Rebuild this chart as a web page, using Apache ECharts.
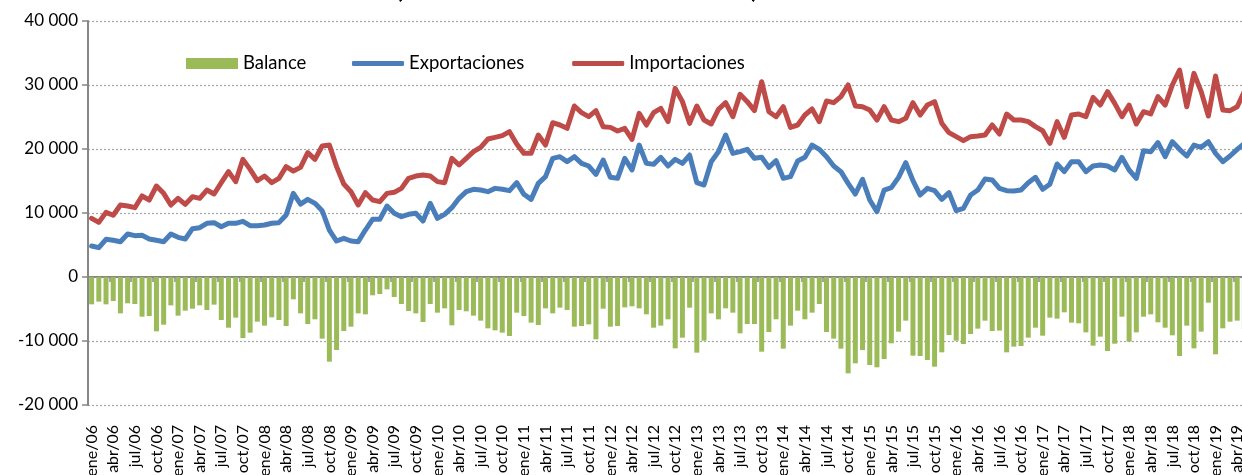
<!DOCTYPE html>
<html>
<head>
<meta charset="utf-8">
<script src="https://cdn.jsdelivr.net/npm/echarts@6/dist/echarts.min.js"></script>
<style>
    html, body { margin: 0; padding: 0; overflow: hidden; background: #fff; }
    #grafico { position: absolute; left: 0; top: 0; width: 1260px; height: 475px; }
</style>
</head>
<body>
<div id="grafico"></div>
<script>
const meses = ['ene', 'feb', 'mar', 'abr', 'may', 'jun', 'jul', 'ago', 'sep', 'oct', 'nov', 'dic'];
const anios = ['06', '07', '08', '09', '10', '11', '12', '13', '14', '15', '16', '17', '18', '19'];

// ene/06 ... may/19
const exportaciones = [
    4840, 4580, 5890, 5730, 5520, 6720, 6460, 6510, 5940, 5730, 5520, 6720,
    6200, 5940, 7550, 7710, 8390, 8490, 7860, 8390, 8390, 8700, 8020, 8020,
    8120, 8390, 8490, 9690, 13070, 11400, 12130, 11510, 10360, 7340, 5620, 6040,
    5620, 5520, 7340, 9010, 9010, 11090, 9950, 9430, 9790, 9950, 8750, 11510,
    9170, 9790, 10830, 12290, 13330, 13700, 13590, 13330, 13850, 13700, 13490, 14740,
    12920, 12130, 14630, 15680, 18540, 18800, 18020, 18800, 17760, 17340, 16040, 18280,
    15570, 15420, 18540, 16720, 20620, 17760, 17600, 18700, 17340, 18380, 17760, 19060,
    14740, 14370, 18020, 19580, 22190, 19320, 19580, 19950, 18540, 18700, 17130, 18180,
    15420, 15680, 18120, 18700, 20620, 19950, 18800, 17340, 16460, 14630, 12970, 15260,
    12030, 10210, 13590, 13960, 15570, 17860, 15050, 12810, 13850, 13490, 12130, 13180,
    10360, 10730, 12810, 13590, 15310, 15160, 13850, 13490, 13440, 13590, 14740, 15570,
    13700, 14500, 17660, 16460, 18020, 18020, 16460, 17340, 17500, 17340, 16720, 18700,
    16720, 15420, 19740, 19580, 20990, 18800, 21140, 19950, 18900, 20620, 20260, 21140,
    19320, 18020, 18900, 19950, 20880
];

const importaciones = [
    9170, 8540, 10100, 9640, 11250, 11090, 10830, 12660, 12030, 14220, 13070, 11250,
    12290, 11350, 12550, 12290, 13590, 12970, 14740, 16460, 14900, 18380, 16820, 15050,
    15780, 14740, 15420, 17240, 16560, 17130, 19430, 18380, 20470, 20620, 17240, 14530,
    13330, 11250, 13180, 12030, 11770, 13070, 13230, 13850, 15420, 15780, 15940, 15780,
    14900, 14740, 18540, 17500, 18540, 19580, 20260, 21560, 21820, 22080, 22710, 20780,
    19320, 19320, 22190, 20620, 24110, 23750, 23230, 26720, 25680, 25050, 25990, 23490,
    23380, 22810, 23230, 21510, 25570, 23750, 25680, 26350, 24270, 29480, 27400, 24010,
    26720, 24530, 23910, 26200, 27240, 25050, 28540, 27400, 25990, 30520, 25830, 25050,
    26610, 23380, 23750, 25310, 26250, 24270, 27500, 27240, 28180, 30000, 26720, 26610,
    26090, 24530, 26610, 24530, 24270, 24790, 27240, 25310, 26870, 27400, 24010, 22550,
    21930, 21300, 21930, 22030, 22190, 23750, 22340, 25470, 24530, 24530, 24270, 23490,
    22860, 20880, 24270, 21820, 25310, 25470, 25050, 28070, 26870, 28960, 27130, 25050,
    26870, 23900, 25830, 25470, 28180, 26870, 30000, 32340, 26610, 31820, 28960, 25150,
    31400, 26090, 25990, 26610, 29000
];

const balance = [
    -4270, -3850, -4270, -3750, -5680, -4110, -4220, -6200, -6090, -8490, -7450, -4430,
    -6040, -5260, -4950, -4430, -5160, -4320, -6720, -7920, -6350, -9530, -8700, -6980,
    -7600, -6300, -6720, -7660, -3490, -5680, -7340, -6610, -9630, -13230, -11410, -8440,
    -7760, -5680, -5830, -2860, -2660, -1930, -3120, -4220, -5310, -5680, -7030, -4220,
    -5570, -4900, -7550, -5160, -5360, -6040, -6820, -8020, -8330, -8700, -9220, -5570,
    -6090, -7130, -7500, -4900, -5680, -4790, -5160, -7760, -7660, -7400, -9740, -4950,
    -7760, -7660, -4740, -4580, -4900, -5830, -7920, -7600, -6610, -11150, -9480, -4790,
    -11820, -9950, -5680, -6610, -4900, -5570, -8800, -7340, -7340, -11670, -8590, -6610,
    -11200, -7600, -5260, -6610, -5570, -4220, -8590, -9630, -11200, -15050, -13490, -11410,
    -13750, -14110, -12810, -10360, -8540, -6820, -12290, -12340, -12970, -14010, -11770, -9060,
    -9950, -10470, -8910, -8070, -6820, -8440, -8380, -11770, -10880, -10780, -9480, -7920,
    -9170, -6350, -6510, -5520, -7130, -7240, -8650, -10730, -9320, -11560, -10420, -6200,
    -10100, -8650, -6200, -5830, -7080, -7920, -9110, -12340, -7600, -11150, -8540, -4010,
    -12080, -8020, -6980, -6820, -8100
];

const categorias = [];
anios.forEach(a => meses.forEach(m => categorias.push(m + '/' + a)));
categorias.length = exportaciones.length;

const fuente = 'Lato';
const gris = '#868686';
const azul = '#4a7ebb';
const rojo = '#be4b48';
const verde = '#9bbb59';

const chartDom = document.getElementById('grafico');
const myChart = echarts.init(chartDom, null, { renderer: 'canvas' });

const miles = v => String(v).replace(/\B(?=(\d{3})+(?!\d))/g, ' ');

const textoLeyenda = { fontFamily: fuente, fontSize: 18.5, color: '#000' };

const option = {
    animation: false,
    backgroundColor: '#ffffff',
    textStyle: { fontFamily: fuente },
    graphic: [
        {
            type: 'text',
            x: 577,
            y: 2,
            style: {
                text: '(en millones de dólares corrientes)',
                font: 'bold 24px Lato',
                fill: '#000',
                textAlign: 'center',
                textVerticalAlign: 'bottom'
            }
        }
    ],
    legend: [
        {
            left: 186,
            top: 54,
            padding: 0,
            itemWidth: 52,
            itemHeight: 11,
            textStyle: textoLeyenda,
            data: [{ name: 'Balance', icon: 'rect' }]
        },
        {
            left: 352,
            top: 54,
            padding: 0,
            itemWidth: 52,
            itemHeight: 5,
            itemGap: 48,
            textStyle: textoLeyenda,
            data: [
                { name: 'Exportaciones', icon: 'roundRect' },
                { name: 'Importaciones', icon: 'roundRect' }
            ]
        }
    ],
    grid: {
        left: 88,
        right: 12,
        top: 21,
        bottom: 70,
        outerBoundsMode: 'none'
    },
    xAxis: [
        {
            type: 'category',
            data: categorias,
            position: 'bottom',
            axisLine: { show: false, onZero: false },
            axisTick: { show: false },
            splitLine: { show: false },
            axisLabel: {
                interval: 2,
                rotate: 90,
                margin: 20,
                fontFamily: fuente,
                fontSize: 16,
                color: '#000'
            }
        },
        {
            type: 'category',
            data: categorias,
            position: 'top',
            axisLine: { show: true, onZero: true, lineStyle: { color: gris, width: 2 } },
            axisTick: { show: true, inside: true, interval: 2, length: 5, lineStyle: { color: gris, width: 1.5 } },
            axisLabel: { show: false },
            splitLine: { show: false }
        }
    ],
    yAxis: {
        type: 'value',
        min: -20000,
        max: 40000,
        interval: 10000,
        axisLine: { show: true, lineStyle: { color: gris, width: 2 } },
        axisTick: { show: true, length: 6, lineStyle: { color: gris, width: 1.5 } },
        axisLabel: {
            margin: 10,
            fontFamily: fuente,
            fontSize: 17,
            color: '#000',
            formatter: miles
        },
        splitLine: {
            show: true,
            lineStyle: { color: '#a6a6a6', width: 1.2, type: [2, 2] }
        }
    },
    series: [
        {
            name: 'Balance',
            type: 'bar',
            xAxisIndex: 0,
            barWidth: 5,
            itemStyle: { color: verde },
            data: balance
        },
        {
            name: 'Exportaciones',
            type: 'line',
            xAxisIndex: 0,
            symbol: 'none',
            showSymbol: false,
            itemStyle: { color: azul },
            lineStyle: { color: azul, width: 5, join: 'round', cap: 'round' },
            data: exportaciones
        },
        {
            name: 'Importaciones',
            type: 'line',
            xAxisIndex: 0,
            symbol: 'none',
            showSymbol: false,
            itemStyle: { color: rojo },
            lineStyle: { color: rojo, width: 5, join: 'round', cap: 'round' },
            data: importaciones
        }
    ]
};

option && myChart.setOption(option);
</script>
</body>
</html>
